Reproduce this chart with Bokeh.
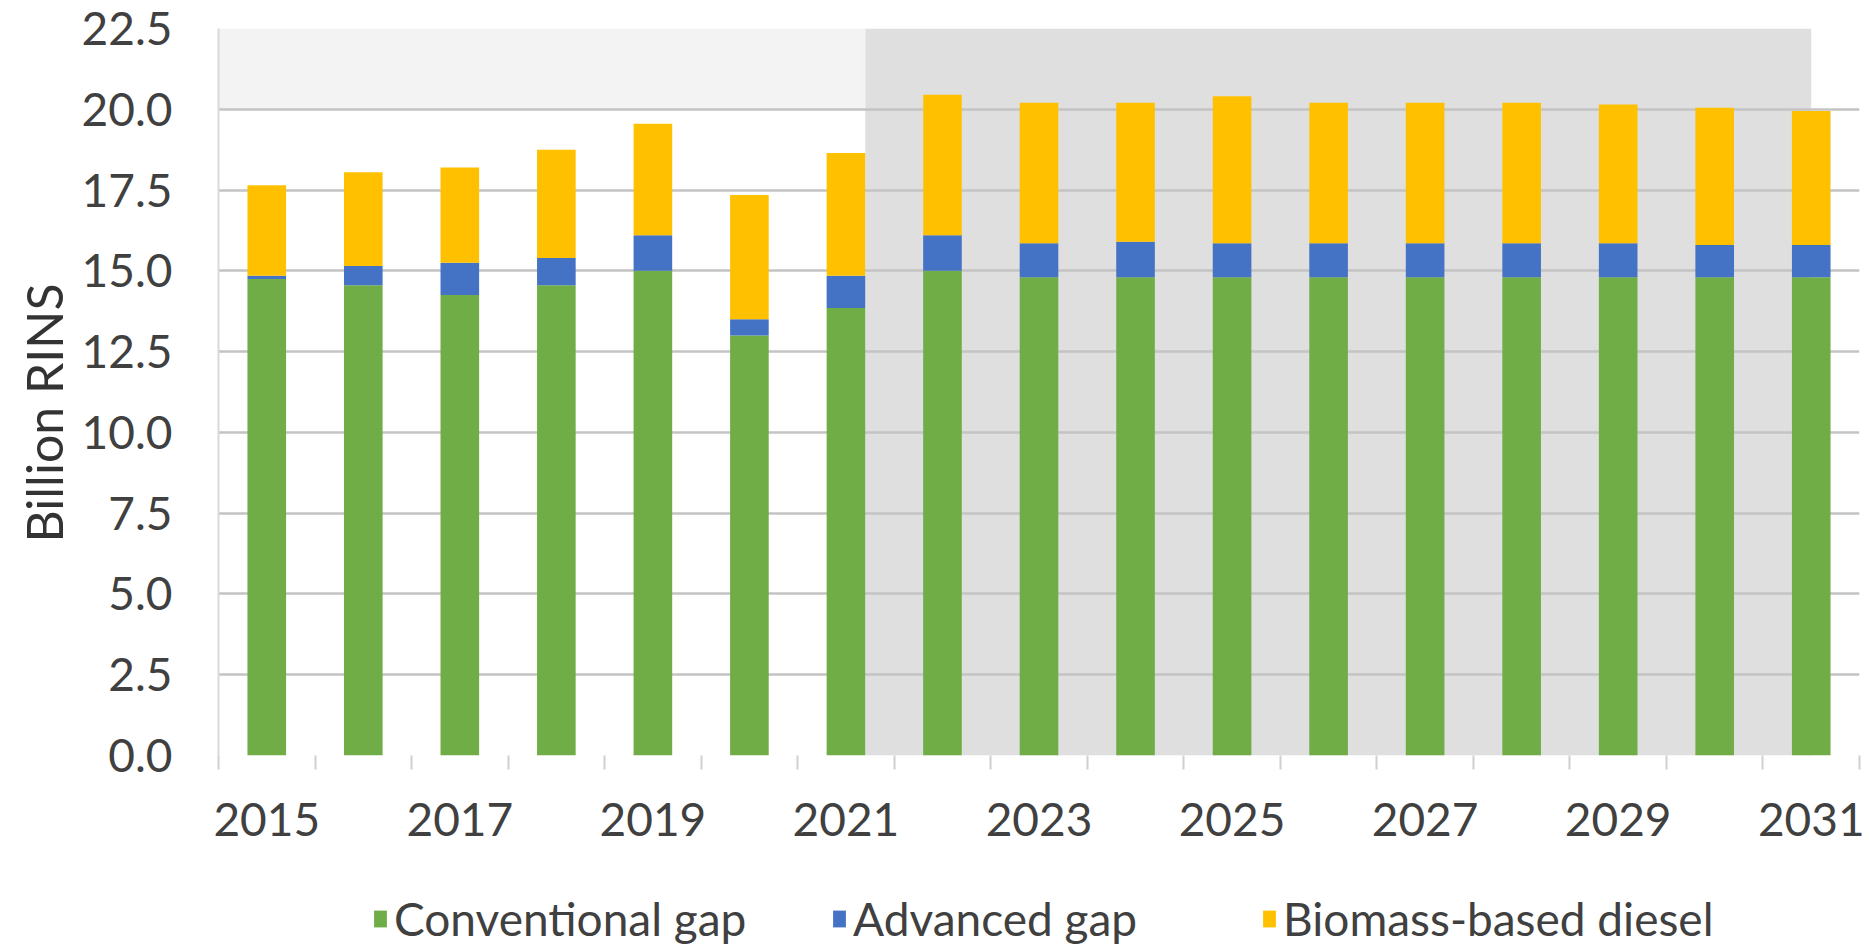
from bokeh.plotting import figure
from bokeh.layouts import column
from bokeh.models import (Range1d, FixedTicker, PrintfTickFormatter, Legend, LegendItem,
                          BoxAnnotation, ColumnDataSource, BasicTickFormatter, Title)
from bokeh.embed import file_html
from bokeh.resources import INLINE

# ---- data (billion RINs) ----
years = list(range(2015, 2032))
conventional_gap = [14.75, 14.55, 14.25, 14.55, 15.0, 13.0, 13.85, 15.0, 14.8, 14.8,
                    14.8, 14.8, 14.8, 14.8, 14.8, 14.8, 14.8]
advanced_gap = [0.1, 0.6, 1.0, 0.85, 1.1, 0.5, 1.0, 1.1, 1.05, 1.1,
                1.05, 1.05, 1.05, 1.05, 1.05, 1.0, 1.0]
biomass_based_diesel = [2.8, 2.9, 2.95, 3.35, 3.45, 3.85, 3.8, 4.35, 4.35, 4.3,
                        4.55, 4.35, 4.35, 4.35, 4.3, 4.25, 4.15]
series_names = ["Conventional gap", "Advanced gap", "Biomass-based diesel"]
x_tick_labels = [2015, 2017, 2019, 2021, 2023, 2025, 2027, 2029, 2031]
y_ticks = [0.0, 2.5, 5.0, 7.5, 10.0, 12.5, 15.0, 17.5, 20.0, 22.5]
projection_start, projection_end = 2021.2, 2031.0

colors = ["#70AD47", "#4472C4", "#FFC000"]
FONT = "Lato"
TXT = "#404040"
TICK_SIZE = "46px"
FRAME_LEFT = 218

source = ColumnDataSource(dict(year=years, conv=conventional_gap,
                               adv=advanced_gap, bbd=biomass_based_diesel))

MAIN_H, LEG_H = 870, 76

p = figure(width=1870, height=MAIN_H, output_backend="svg", toolbar_location=None,
           x_range=Range1d(years[0] - 0.5, years[-1] + 0.5),
           y_range=Range1d(0, 22.5),
           min_border_left=FRAME_LEFT, min_border_right=11, min_border_top=28,
           min_border_bottom=MAIN_H - 755)
p.outline_line_color = None
p.background_fill_color = "white"
p.border_fill_color = "white"

# shaded projection period & light band
p.add_layout(BoxAnnotation(left=projection_start, right=projection_end, bottom=0, top=22.5,
                           fill_color="#dfdfdf", fill_alpha=1.0, line_color=None,
                           level="image"))
p.add_layout(BoxAnnotation(left=years[0] - 0.5, right=projection_start, bottom=20.0, top=22.5,
                           fill_color="#f3f3f3", fill_alpha=1.0, line_color=None,
                           level="image"))

p.vbar_stack(["conv", "adv", "bbd"], x="year", width=0.4, color=colors,
             line_color=None, source=source)

# axes
p.xaxis.ticker = FixedTicker(ticks=x_tick_labels,
                             minor_ticks=[y - 0.5 for y in years] + [years[-1] + 0.5])
p.xaxis.formatter = BasicTickFormatter(use_scientific=False)
p.xaxis.major_tick_line_color = None
p.xaxis.major_tick_out = 0
p.xaxis.minor_tick_line_color = "#d0d0d0"
p.xaxis.minor_tick_line_width = 2
p.xaxis.minor_tick_out = 14
p.xaxis.minor_tick_in = 0
p.xaxis.axis_line_color = None
p.xaxis.major_label_standoff = 33
p.xaxis.major_label_text_font = FONT
p.xaxis.major_label_text_font_size = TICK_SIZE
p.xaxis.major_label_text_color = TXT

p.yaxis.ticker = FixedTicker(ticks=y_ticks)
p.yaxis.formatter = PrintfTickFormatter(format="%.1f")
p.yaxis.major_tick_line_color = None
p.yaxis.minor_tick_line_color = None
p.yaxis.axis_line_color = "#d9d9d9"
p.yaxis.axis_line_width = 2
p.yaxis.major_label_standoff = 40
p.yaxis.major_label_text_font = FONT
p.yaxis.major_label_text_font_size = TICK_SIZE
p.yaxis.major_label_text_color = TXT

p.add_layout(Title(text="Billion RINS", align="left", offset=213, standoff=10,
                   text_font=FONT, text_font_style="normal", text_font_size="50px",
                   text_color="#333333"), "left")

p.xgrid.grid_line_color = None
p.ygrid.ticker = FixedTicker(ticks=y_ticks)
p.ygrid.grid_line_color = "#c4c4c4"
p.ygrid.grid_line_width = 2.5

# ---- legend strip (same series, drawn out of view; only the legend shows) ----
lf = figure(width=1870, height=LEG_H, output_backend="svg", toolbar_location=None,
            x_axis_type=None, y_axis_type=None, min_border=0,
            x_range=Range1d(years[0] - 0.5, years[-1] + 0.5), y_range=Range1d(100, 101))
lf.outline_line_color = None
lf.xgrid.grid_line_color = None
lf.ygrid.grid_line_color = None
lrs = lf.vbar_stack(["conv", "adv", "bbd"], x="year", width=0.4, color=colors,
                    line_color=None, source=source)
legend_x = [372, 831, 1261]   # page x of each legend swatch
for i in range(3):
    lg = Legend(items=[LegendItem(label=series_names[i], renderers=[lrs[i]])],
                orientation="horizontal", location=(legend_x[i] - FRAME_LEFT, 0),
                label_text_font=FONT, label_text_font_size="46px", label_text_color=TXT,
                glyph_width=16, glyph_height=21, label_standoff=6,
                border_line_color=None, background_fill_alpha=0,
                padding=0, margin=0)
    lf.add_layout(lg)

open("out.html", "w").write(file_html(column(p, lf, spacing=0), INLINE))
